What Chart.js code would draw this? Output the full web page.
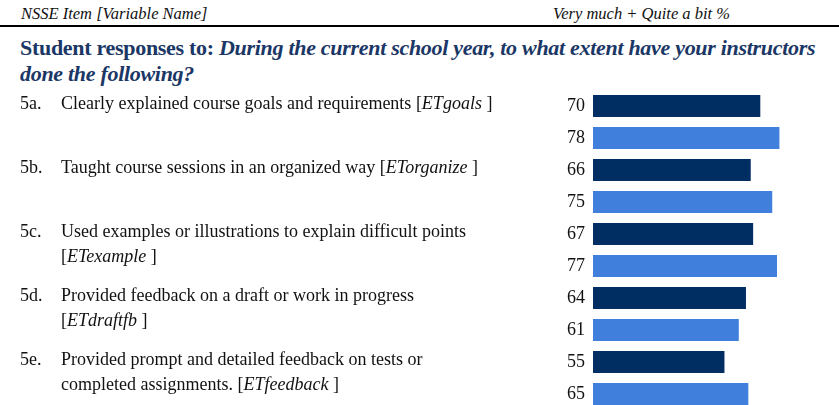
<!DOCTYPE html>
<html>
<head>
<meta charset="utf-8">
<script src="https://cdn.jsdelivr.net/npm/chart.js@4"></script>
<style>
  body { margin: 0; width: 839px; height: 405px; overflow: hidden; background: #fff; position: relative; }
  .hdr { position: absolute; top: 4px; font: italic 16.5px "Liberation Serif", serif; color: #111; }
  .rule { position: absolute; left: 0; top: 25px; width: 839px; height: 2px; background: #000; }
  .title { position: absolute; left: 20px; top: 35px; width: 818px; font: bold 22px/26px "Liberation Serif", serif; letter-spacing: -0.3px; color: #1b3766; }
  #wrap { position: absolute; left: 0; top: 0; width: 839px; height: 412px; }
</style>
</head>
<body>
<div class="hdr" style="left:21px">NSSE Item [Variable Name]</div>
<div class="hdr" style="left:553px">Very much + Quite a bit %</div>
<div class="rule"></div>
<div class="title">Student responses to: <i>During the current school year, to what extent have your instructors done the following?</i></div>
<div id="wrap"><canvas id="chart"></canvas></div>
<script>
// codigos y textos de cada pregunta
const itemCodes = ['5a.', '5b.', '5c.', '5d.', '5e.'];
const itemLines = [
    ['Clearly explained course goals and requirements'],
    ['Taught course sessions in an organized way'],
    ['Used examples or illustrations to explain difficult points', ''],
    ['Provided feedback on a draft or work in progress', ''],
    ['Provided prompt and detailed feedback on tests or', 'completed assignments.']
];
const varNames = ['ETgoals', 'ETorganize', 'ETexample', 'ETdraftfb', 'ETfeedback'];

// porcentajes (very much + quite a bit)
const institution = [70, 66, 67, 64, 55];
const comparison = [78, 75, 77, 61, 65];

const darkBlue = '#002d62';
const lightBlue = '#4080dc';
const serif = '"Liberation Serif", "Times New Roman", serif';

// etiquetas de valores y textos de las preguntas
const labelsPlugin = {
    id: 'labels',
    afterDatasetsDraw(chart) {
        const c = chart.ctx;
        c.save();
        c.fillStyle = '#111';
        c.textBaseline = 'middle';

        // numeros a la izquierda de cada barra
        c.font = '18px ' + serif;
        c.textAlign = 'right';
        chart.data.datasets.forEach(function (ds, di) {
            chart.getDatasetMeta(di).data.forEach(function (bar, i) {
                c.fillText(ds.data[i], bar.base - 8, bar.y);
            });
        });

        // texto de cada pregunta
        c.textAlign = 'left';
        const meta = chart.getDatasetMeta(0);
        itemCodes.forEach(function (code, i) {
            const y0 = meta.data[i].y - 2;
            c.font = '18px ' + serif;
            c.fillText(code, 20, y0);
            const lines = itemLines[i];
            lines.forEach(function (txt, li) {
                const y = y0 + li * 25;
                let x = 61;
                c.font = '18px ' + serif;
                c.fillText(txt, x, y);
                x += c.measureText(txt).width;
                if (li === lines.length - 1) {
                    // nombre de variable en cursiva
                    let pre = txt === '' ? '[' : ' [';
                    c.fillText(pre, x, y);
                    x += c.measureText(pre).width;
                    c.font = 'italic 18px ' + serif;
                    c.fillText(varNames[i], x, y);
                    x += c.measureText(varNames[i] + ' ').width;
                    c.font = '18px ' + serif;
                    c.fillText(']', x, y);
                }
            });
        });
        c.restore();
    }
};

new Chart(document.getElementById('chart'), {
    type: 'bar',
    data: {
        labels: itemCodes,
        datasets: [
            { label: 'Institution', data: institution, backgroundColor: darkBlue },
            { label: 'Comparison', data: comparison, backgroundColor: lightBlue }
        ]
    },
    options: {
        indexAxis: 'y',
        responsive: true,
        maintainAspectRatio: false,
        animation: false,
        categoryPercentage: 1,
        barPercentage: 0.6875,
        layout: { padding: { top: 90, left: 593, right: 7, bottom: 2 } },
        scales: {
            x: { display: false, min: 0, max: 100 },
            y: { display: false }
        },
        plugins: {
            legend: { display: false },
            tooltip: { enabled: false }
        }
    },
    plugins: [labelsPlugin]
});
</script>
</body>
</html>
